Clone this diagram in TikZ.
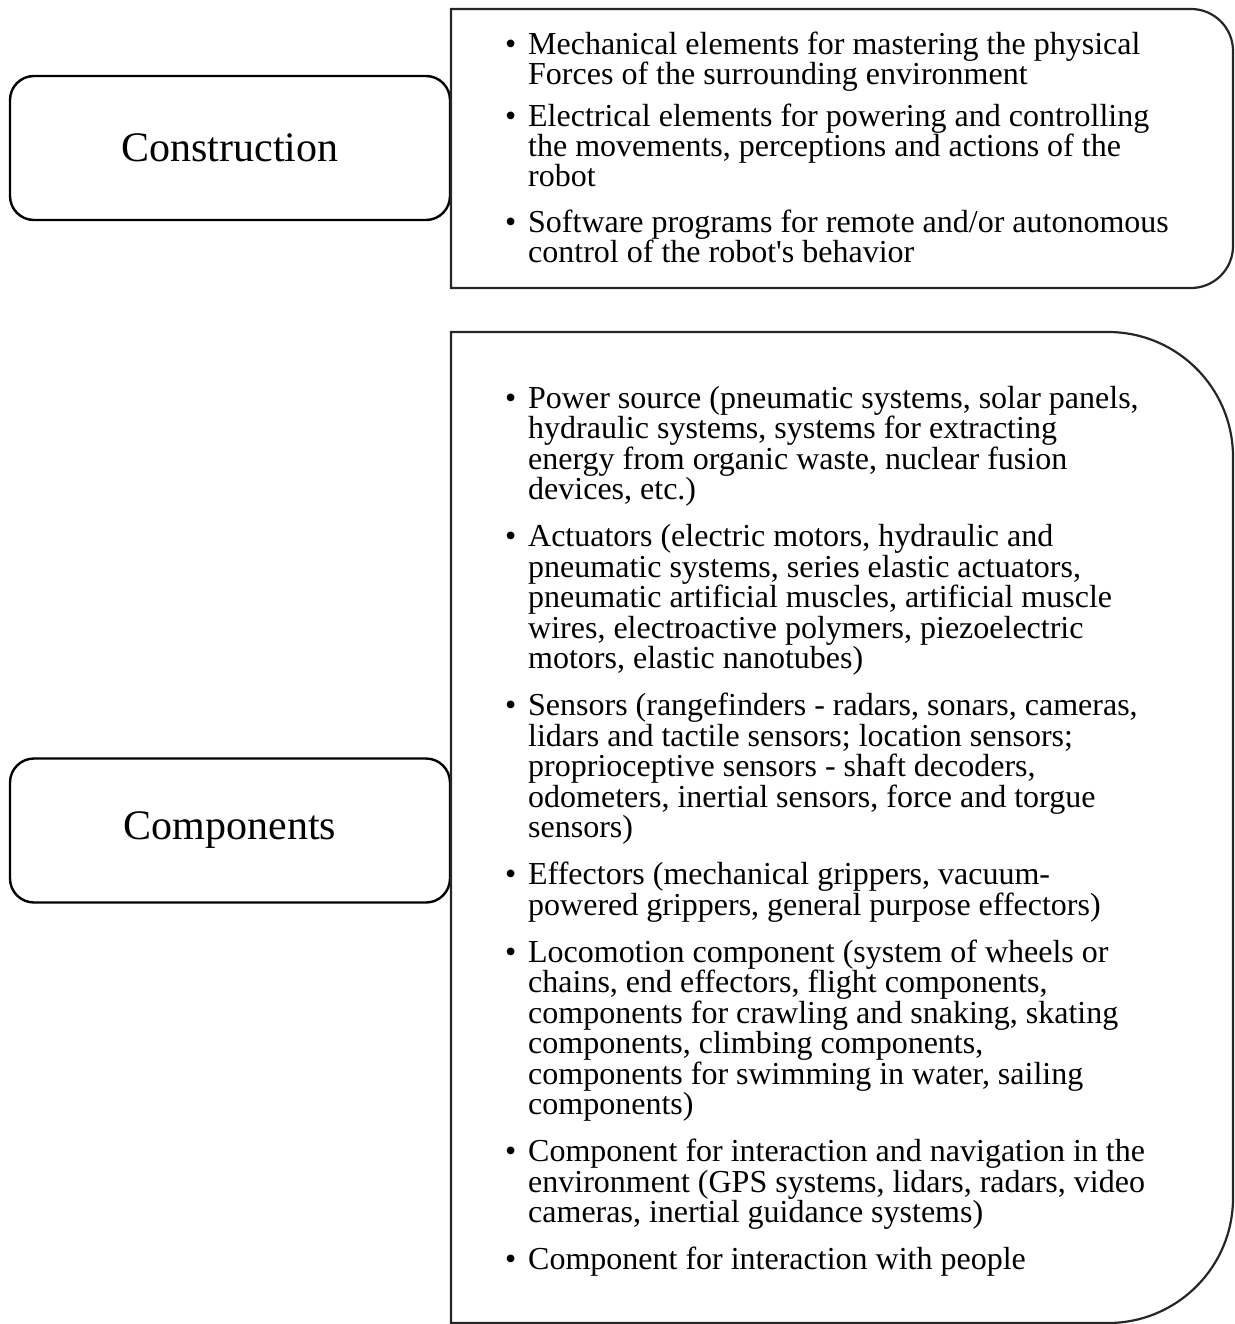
\documentclass[tikz,border=0pt]{standalone}
\usepackage{fontspec}
\setmainfont{Liberation Serif}
% one list line: bullet hung in the left margin, fixed line pitch
\newcommand{\itemline}{\noindent\llap{\textbullet\hspace{12pt}}}
\newenvironment{pitchlist}[1]
  {\begin{minipage}[t]{700pt}\fontsize{32}{#1}\selectfont
   \lineskiplimit=-100pt\parindent=0pt\raggedright}
  {\end{minipage}}
\begin{document}
\begin{tikzpicture}[x=1pt,y=-1pt,
  labelbox/.style={draw=black, line width=2.4pt, rounded corners=24pt,
    minimum width=440pt, minimum height=144pt, inner sep=0pt,
    font=\fontsize{42}{46}\selectfont},
  panel/.style={draw=black!85, line width=2.2pt},
  listtext/.style={anchor=base west, inner sep=0pt}]
\useasboundingbox (0,0) rectangle (1234,1324);

% category labels on the left
\node[labelbox] (construction) at (230,148) {Construction};
\node[labelbox] (components) at (230,830.5) {Components};

% panel outlines, right corners rounded
\coordinate (p1nw) at (451,9);
\coordinate (p1se) at (1233,288);
\draw[panel, rounded corners=42pt] (p1nw) -- (p1se |- p1nw) -- (p1se)
  [sharp corners] -- (p1nw |- p1se) -- cycle;
\coordinate (p2nw) at (451,332);
\coordinate (p2se) at (1233,1323);
\draw[panel, rounded corners=125pt] (p2nw) -- (p2se |- p2nw) -- (p2se)
  [sharp corners] -- (p2nw |- p2se) -- cycle;

% bullet lists
\node[listtext] (constructionlist) at (528,55) {%
\begin{pitchlist}{30}
\itemline Mechanical elements for mastering the physical\\
Forces of the surrounding environment\\[12pt]
\itemline Electrical elements for powering and controlling\\
the movements, perceptions and actions of the\\
robot\\[16pt]
\itemline Software programs for remote and/or autonomous\\
control of the robot\textquotesingle s behavior
\end{pitchlist}};

\node[listtext] (componentslist) at (528,408) {%
\begin{pitchlist}{30.5}
\itemline Power source (pneumatic systems, solar panels,\\
hydraulic systems, systems for extracting\\
energy from organic waste, nuclear fusion\\
devices, etc.)\\[16.5pt]
\itemline Actuators (electric motors, hydraulic and\\
pneumatic systems, series elastic actuators,\\
pneumatic artificial muscles, artificial muscle\\
wires, electroactive polymers, piezoelectric\\
motors, elastic nanotubes)\\[16.5pt]
\itemline Sensors (rangefinders - radars, sonars, cameras,\\
lidars and tactile sensors; location sensors;\\
proprioceptive sensors - shaft decoders,\\
odometers, inertial sensors, force and torgue\\
sensors)\\[16.5pt]
\itemline Effectors (mechanical grippers, vacuum-\\
powered grippers, general purpose effectors)\\[16.5pt]
\itemline Locomotion component (system of wheels or\\
chains, end effectors, flight components,\\
components for crawling and snaking, skating\\
components, climbing components,\\
components for swimming in water, sailing\\
components)\\[16.5pt]
\itemline Component for interaction and navigation in the\\
environment (GPS systems, lidars, radars, video\\
cameras, inertial guidance systems)\\[16.5pt]
\itemline Component for interaction with people
\end{pitchlist}};
\end{tikzpicture}
\end{document}
